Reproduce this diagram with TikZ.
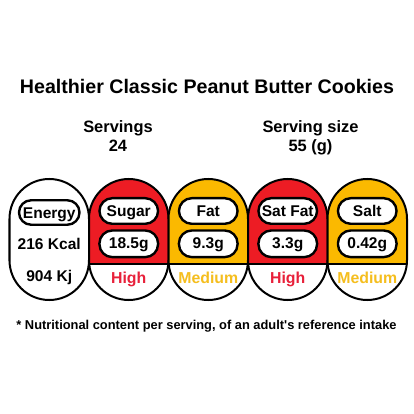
\documentclass[tikz,border=0pt]{standalone}
\usepackage{fontspec}
\setmainfont{Liberation Sans}
\definecolor{hired}{HTML}{ED1C24}
\definecolor{medyel}{HTML}{FBB900}
\definecolor{hitext}{HTML}{E8203A}
\definecolor{medtext}{HTML}{F5BE1E}
\tikzset{x=1bp,y=1bp,
  titletxt/.style={font=\fontsize{19.7}{22}\selectfont\bfseries, inner sep=0pt, anchor=base},
  headtxt/.style={font=\fontsize{16.5}{19}\selectfont\bfseries, inner sep=0pt, anchor=base},
  foottxt/.style={font=\fontsize{12.9}{15}\selectfont\bfseries, inner sep=0pt, anchor=base},
  celltxt/.style={font=\fontsize{15.6}{18}\selectfont\bfseries, inner sep=0pt, anchor=base},
  leveltxt/.style={font=\fontsize{15.9}{18}\selectfont\bfseries, inner sep=0pt, anchor=base},
  outline/.style={draw=black, line width=2bp},
  innerpill/.style={draw=black, line width=2.4bp, fill=white, rounded corners=12.8bp,
    minimum width=58.6bp, inner sep=0pt, font=\fontsize{15.6}{18}\selectfont\bfseries, text depth=0pt},
  labelpill/.style={innerpill, minimum height=25.6bp, text height=11.2bp},
  valuepill/.style={innerpill, minimum height=26.6bp, text height=9bp},
}
\begin{document}
\begin{tikzpicture}
\useasboundingbox (0,0) rectangle (414,414);
\fill[white] (0,0) rectangle (414,414);
% headings
\node[titletxt] (title) at (207,321) {Healthier Classic Peanut Butter Cookies};
\node[headtxt] (servings) at (118,282) {Servings};
\node[headtxt] (servnum) at (118,263) {24};
\node[headtxt] (size) at (310.5,282) {Serving size};
\node[headtxt] (sizenum) at (310.5,263) {55 (g)};
% energy column
\draw[outline, fill=white] (9.5,153.75) -- (9.5,195.25) arc[start angle=180,end angle=0,radius=39.75]
  -- (89,153.75) arc[start angle=0,end angle=-180,radius=39.75] -- cycle;
\node[labelpill, minimum width=60.5bp, minimum height=24.5bp, rounded corners=12.2bp] (energy) at (49.25,201.5) {Energy};
\node[celltxt] (kcal) at (49.25,164.7) {216 Kcal};
\node[celltxt] (kj) at (49.25,133) {904 Kj};
% nutrient columns
\foreach \i/\nm/\val/\lvl/\fc/\tc in {1/Sugar/18.5g/High/hired/hitext, 2/Fat/9.3g/Medium/medyel/medtext, 3/Sat Fat/3.3g/High/hired/hitext, 4/Salt/0.42g/Medium/medyel/medtext}{
  \pgfmathsetmacro\xl{9.5+79.5*\i}
  \pgfmathsetmacro\xr{\xl+79.5}
  \pgfmathsetmacro\cx{\xl+39.75}
  \begin{scope}
    \clip (\xl,153.75) -- (\xl,195.25) arc[start angle=180,end angle=0,radius=39.75]
      -- (\xr,153.75) arc[start angle=0,end angle=-180,radius=39.75] -- cycle;
    \fill[white] (\xl,100) rectangle (\xr,250);
    \fill[\fc] (\xl,150) rectangle (\xr,250);
    \draw[line width=2bp] (\xl,150) -- (\xr,150);
  \end{scope}
  \draw[outline] (\xl,153.75) -- (\xl,195.25) arc[start angle=180,end angle=0,radius=39.75]
    -- (\xr,153.75) arc[start angle=0,end angle=-180,radius=39.75] -- cycle;
  \node[labelpill] (lab\i) at (\cx,203) {\nm};
  \node[valuepill] (val\i) at (\cx,170.2) {\val};
  \node[leveltxt, text=\tc] (lvl\i) at (\cx,131) {\lvl};
}
% footnote
\node[foottxt] (foot) at (206.5,85) {* Nutritional content per serving, of an adult\textquotesingle s reference intake};
\end{tikzpicture}
\end{document}
